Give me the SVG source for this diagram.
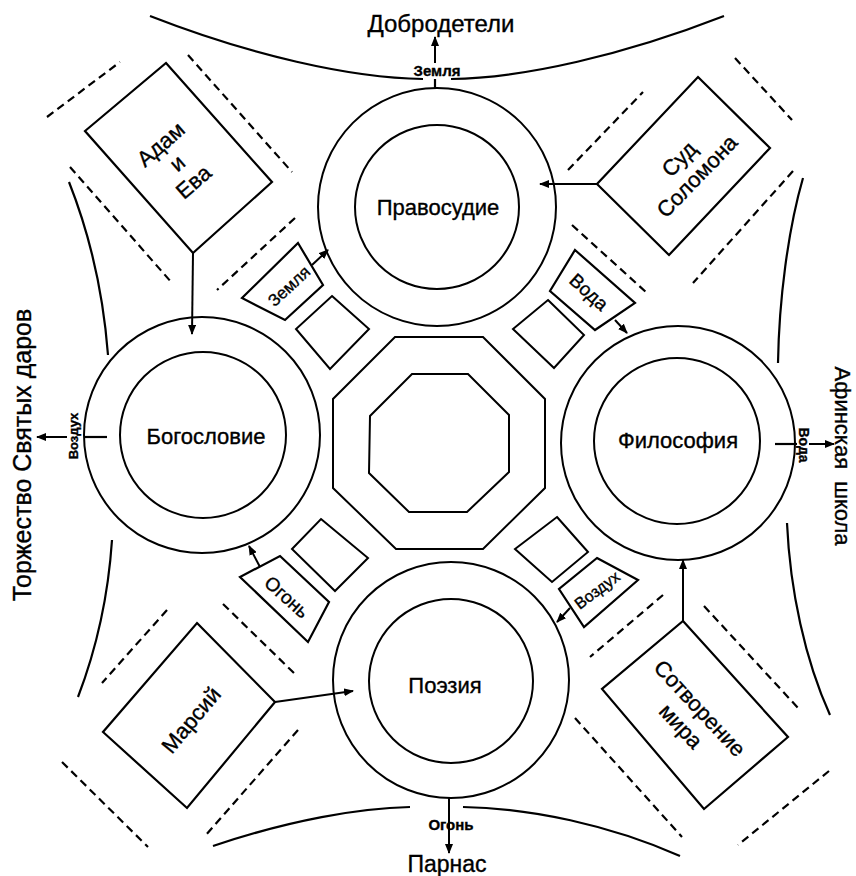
<svg xmlns="http://www.w3.org/2000/svg" width="856" height="876" viewBox="0 0 856 876">
<defs>
<marker id="ah" viewBox="0 0 10 8" refX="9" refY="4" markerWidth="10" markerHeight="8" markerUnits="userSpaceOnUse" orient="auto">
<path d="M0,0 L10,4 L0,8 z" fill="#000"/>
</marker>
</defs>
<style>
.c{fill:none;stroke:#000;stroke-width:2}
.p{fill:#fff;stroke:#000;stroke-width:2.2;stroke-linejoin:miter}
.s{fill:none;stroke:#000;stroke-width:2;stroke-linejoin:miter}
.d{fill:none;stroke:#000;stroke-width:2.2;stroke-dasharray:8 5}
.l{fill:none;stroke:#000;stroke-width:2.2}
.a{fill:none;stroke:#000;stroke-width:2;marker-end:url(#ah)}
text{font-family:"Liberation Sans",Arial,sans-serif;fill:#000;text-anchor:middle;stroke:#000;stroke-width:0.35}
.t{font-size:22px}
.e{font-size:18px}
.sm{font-size:15px;font-weight:bold}
.big{font-size:24px}
</style>
<rect width="856" height="876" fill="#fff"/>

<g id="frame">
<path class="l" d="M150,16 C250,55 350,78 423,79"/>
<path class="l" d="M451,79 C524,78 624,55 724,16"/>
<path class="l" d="M213,846 C290,820 360,808 410,807"/>
<path class="l" d="M463,807 C530,808 610,825 680,856"/>
<path class="l" d="M69,182 C88,230 103,290 108,355"/>
<path class="l" d="M112,540 C108,600 96,650 78,697"/>
<path class="l" d="M803,178 C788,230 779,300 778,363"/>
<path class="l" d="M787,523 C790,590 805,660 830,715"/>
</g>

<g id="dashes">
<line class="d" x1="47" y1="117" x2="120" y2="62"/>
<line class="d" x1="188" y1="55" x2="292" y2="172"/>
<line class="d" x1="70" y1="167" x2="172" y2="283"/>
<line class="d" x1="295" y1="218" x2="217" y2="290"/>
<line class="d" x1="568" y1="170" x2="643" y2="92"/>
<line class="d" x1="735" y1="58" x2="792" y2="120"/>
<line class="d" x1="793" y1="171" x2="693" y2="283"/>
<line class="d" x1="572" y1="225" x2="647" y2="293"/>
<line class="d" x1="167" y1="610" x2="102" y2="683"/>
<line class="d" x1="223" y1="604" x2="297" y2="676"/>
<line class="d" x1="62" y1="762" x2="148" y2="847"/>
<line class="d" x1="298" y1="730" x2="205" y2="836"/>
<line class="d" x1="663" y1="595" x2="590" y2="657"/>
<line class="d" x1="704" y1="606" x2="799" y2="709"/>
<line class="d" x1="575" y1="718" x2="682" y2="837"/>
<line class="d" x1="829" y1="771" x2="738" y2="845"/>
</g>

<g id="center">
<polygon class="s" points="395,337 483,337 545,399 545,488 483,549 396,549 333,488 333,399"/>
<polygon class="s" points="412,374 468,374 509,415 509,472 467,512 409,512 369,473 370,416"/>
<polygon class="s" points="332,296 369,329 330,369 296,329"/>
<polygon class="s" points="548,300 584,335 554,368 513,329"/>
<polygon class="s" points="321,519 368,558 335,591 292,549"/>
<polygon class="s" points="557,517 588,552 552,582 515,549"/>
</g>

<g id="connectors">
<line class="a" x1="193" y1="253" x2="192" y2="334"/>
<line class="a" x1="597" y1="184" x2="540" y2="184"/>
<line class="a" x1="275" y1="702" x2="353" y2="691"/>
<line class="a" x1="683" y1="621" x2="683" y2="560"/>
<line class="a" x1="312" y1="265" x2="328" y2="250"/>
<line class="a" x1="615" y1="320" x2="627" y2="333"/>
<line class="a" x1="570" y1="608" x2="557" y2="622"/>
<line class="a" x1="260" y1="567" x2="249" y2="546"/>
<line class="l" x1="435" y1="88" x2="435" y2="79"/>
<line class="a" x1="435" y1="63" x2="435" y2="37"/>
<line class="a" x1="449" y1="797" x2="449" y2="853"/>
<line class="l" x1="107" y1="437" x2="84" y2="437"/>
<line class="a" x1="67" y1="437" x2="37" y2="437"/>
<line class="l" x1="775" y1="444" x2="797" y2="444"/>
<line class="a" x1="809" y1="444" x2="834" y2="444"/>
</g>

<g id="n-pravosudie">
<circle class="c" cx="437" cy="207" r="119"/>
<circle class="c" cx="437" cy="207" r="82"/>
<text class="t" x="438" y="215">Правосудие</text>
</g>
<g id="n-bogoslovie">
<circle class="c" cx="202" cy="435" r="118"/>
<circle class="c" cx="203" cy="435" r="83"/>
<text class="t" x="206" y="444">Богословие</text>
</g>
<g id="n-filosofiya">
<circle class="c" cx="678" cy="443" r="117"/>
<circle class="c" cx="677" cy="441" r="83"/>
<text class="t" x="678" y="448">Философия</text>
</g>
<g id="n-poeziya">
<circle class="c" cx="451" cy="680" r="118"/>
<circle class="c" cx="451" cy="681" r="82"/>
<text class="t" x="445" y="693">Поэзия</text>
</g>

<g id="n-adam">
<polygon class="p" points="166,63 272,182 193,253 85,131"/>
<text class="t" transform="translate(177,163) rotate(-41)"><tspan x="0" y="-17.3">Адам</tspan><tspan x="0" y="7.7">и</tspan><tspan x="0" y="32.7">Ева</tspan></text>
</g>
<g id="n-sud">
<polygon class="p" points="698,77 770,148 669,255 597,184"/>
<text class="t" transform="translate(688,167.5) rotate(-46)"><tspan x="0" y="-4.7">Суд</tspan><tspan x="0" y="20.1">Соломона</tspan></text>
</g>
<g id="n-marsiy">
<polygon class="p" points="197,623 275,702 187,808 103,732"/>
<text class="t" transform="translate(191,720) rotate(-50)" y="7.7">Марсий</text>
</g>
<g id="n-sotvorenie">
<polygon class="p" points="683,621 788,737 704,809 602,689"/>
<text class="t" transform="translate(690.5,717) rotate(47)"><tspan x="0" y="-5.3">Сотворение</tspan><tspan x="0" y="20.7">мира</tspan></text>
</g>

<g id="n-zemlya">
<polygon class="p" points="298,243 323,285 285,320 242,298"/>
<text class="e" style="font-size:17px" transform="translate(289,286) rotate(-43)" y="6">Земля</text>
</g>
<g id="n-voda">
<polygon class="p" points="575,250 635,303 595,330 550,291"/>
<text class="e" style="font-size:19px" transform="translate(589,292) rotate(42)" y="6.7">Вода</text>
</g>
<g id="n-vozduh">
<polygon class="p" points="597,558 638,580 584,627 559,589"/>
<text class="e" style="font-size:16px" transform="translate(597,590) rotate(-37)" y="5.6">Воздух</text>
</g>
<g id="n-ogon">
<polygon class="p" points="280,556 329,602 308,642 240,577"/>
<text class="e" style="font-size:19px" transform="translate(287,597) rotate(42)" y="6.7">Огонь</text>
</g>

<g id="labels">
<text class="big" x="441" y="32">Добродетели</text>
<text class="sm" x="437" y="76">Земля</text>
<text class="sm" x="451" y="830">Огонь</text>
<text style="font-size:23px" x="447" y="872">Парнас</text>
<text style="font-size:13px;font-weight:bold" transform="translate(78,436) rotate(-90)">Воздух</text>
<text style="font-size:14px;font-weight:bold" transform="translate(799,445) rotate(90)">Вода</text>
<text style="font-size:25px" transform="translate(31,455) rotate(-90)">Торжество Святых даров</text>
<text style="font-size:22px;word-spacing:6px" transform="translate(835,456) rotate(90)">Афинская школа</text>
</g>
</svg>
